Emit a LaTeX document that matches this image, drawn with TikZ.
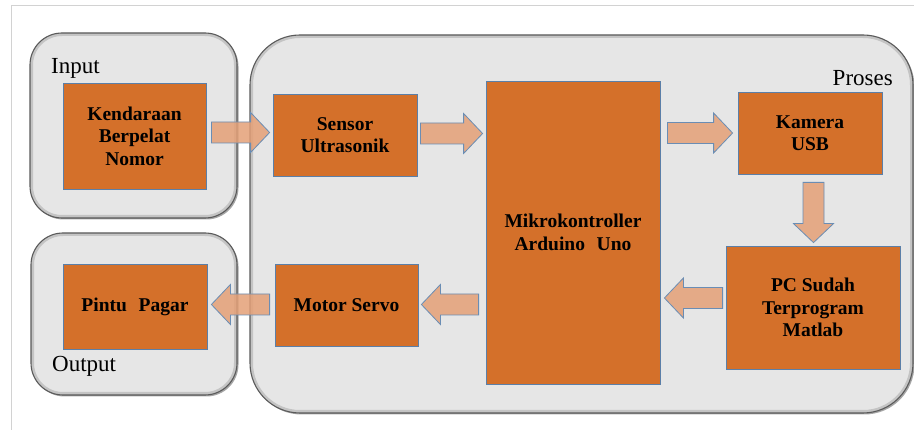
\documentclass[tikz,border=0pt]{standalone}
\usepackage{fontspec}
\setmainfont{Liberation Serif}[BoldFont={Liberation Serif Bold}]
\newfontfamily\lserif{Liberation Serif}
\newfontfamily\lserifbold{Liberation Serif Bold}
\usetikzlibrary{calc,shadows}
\definecolor{boxorange}{HTML}{D4702A}
\definecolor{boxline}{HTML}{5B7FA8}
\definecolor{arrfill}{HTML}{E4A077}
\definecolor{arrline}{HTML}{6A8DB4}
\definecolor{contfill}{HTML}{E6E6E6}
\definecolor{contline}{HTML}{5A5A5A}
\definecolor{contglow}{HTML}{C4C4C4}
\definecolor{frameline}{HTML}{D2D2D2}
\newcommand\blockarr[2]{%
  \path coordinate (hh) at ($(#2)!19pt!(#1)$);
  \draw[barrow] ($(#1)!10.5pt!90:(#2)$) -- ($(hh)!10.5pt!-90:(#1)$)
    -- ($(hh)!20pt!-90:(#1)$) -- (#2) -- ($(hh)!20pt!90:(#1)$)
    -- ($(hh)!10.5pt!90:(#1)$) -- ($(#1)!10.5pt!-90:(#2)$) -- cycle;}
\newcommand\container[3]{%
  \fill[contfill,rounded corners=#3,
    drop shadow={shadow xshift=1.5pt,shadow yshift=-1.5pt,opacity=0.35,fill=black}] #1 rectangle #2;
  \begin{scope}
    \clip[rounded corners=#3] #1 rectangle #2;
    \draw[contglow,line width=6pt,rounded corners=#3] #1 rectangle #2;
  \end{scope}
  \draw[contline,line width=1.1pt,rounded corners=#3] #1 rectangle #2;}
\begin{document}
\begin{tikzpicture}[x=1pt,y=-1pt,
  blk/.style={draw=boxline,line width=0.8pt,fill=boxorange,
    font=\lserifbold\fontsize{19.5}{22.5}\selectfont,align=center,
    inner sep=0pt},
  lbl/.style={font=\lserif\fontsize{23}{26}\selectfont,inner sep=0pt},
  barrow/.style={draw=arrline,line width=0.8pt,fill=arrfill,fill opacity=0.85}]
\useasboundingbox (0,0) rectangle (914,430);
% page frame
\draw[frameline,line width=0.8pt] (11,430) -- (11,5) -- (914,5);
% containers
\container{(30,33)}{(237,218)}{32pt}
\container{(31,233)}{(237,395)}{32pt}
\container{(250,35)}{(913,413)}{50pt}
% labels
\node[lbl,anchor=west] (linp) at (51,68) {Input};
\node[lbl,anchor=west] (lout) at (52,366) {Output};
\node[lbl,anchor=east] (lpro) at (893,78) {Proses};
% blocks
\node[blk,minimum width=143pt,minimum height=106pt] (ken) at (134.5,136) {Kendaraan\\Berpelat\\Nomor};
\node[blk,minimum width=144pt,minimum height=82pt] (sen) at (345,135) {Sensor\\Ultrasonik};
\node[blk,minimum width=174pt,minimum height=303pt] (mik) at (573,232.5) {Mikrokontroller\\Arduino\hspace{0.6em}Uno};
\node[blk,minimum width=144pt,minimum height=82pt] (kam) at (810,133) {Kamera\\USB};
\node[blk,minimum width=174pt,minimum height=123pt] (pc) at (813,307.5) {PC Sudah\\Terprogram\\Matlab};
\node[blk,minimum width=143pt,minimum height=82pt] (mot) at (346.5,305) {Motor Servo};
\node[blk,minimum width=144pt,minimum height=85pt] (pin) at (135,306.5) {Pintu\hspace{0.6em}Pagar};
% arrow end points
\coordinate (a1s) at ($(ken.east |- 0,132.5)+(5,0)$);
\coordinate (a1e) at ($(sen.west |- 0,132.5)+(-3,0)$);
\coordinate (a2s) at ($(sen.east |- 0,133.5)+(3,0)$);
\coordinate (a2e) at ($(mik.west |- 0,133.5)+(-3,0)$);
\coordinate (a3s) at ($(mik.east |- 0,133)+(7,0)$);
\coordinate (a3e) at ($(kam.west |- 0,133)+(-5,0)$);
\coordinate (a4s) at ($(kam.south -| 813.5,0)+(0,8)$);
\coordinate (a4e) at ($(pc.north -| 813.5,0)+(0,-3)$);
\coordinate (a5s) at ($(pc.west |- 0,298)+(-3,0)$);
\coordinate (a5e) at ($(mik.east |- 0,298)+(4,0)$);
\coordinate (a6s) at ($(mik.west |- 0,304.5)+(-7,0)$);
\coordinate (a6e) at ($(mot.east |- 0,304.5)+(3,0)$);
\coordinate (a7s) at ($(mot.west |- 0,304.5)+(-5,0)$);
\coordinate (a7e) at ($(pin.east |- 0,304.5)+(4,0)$);
\blockarr{a1s}{a1e}
\blockarr{a2s}{a2e}
\blockarr{a3s}{a3e}
\blockarr{a4s}{a4e}
\blockarr{a5s}{a5e}
\blockarr{a6s}{a6e}
\blockarr{a7s}{a7e}
\end{tikzpicture}
\end{document}
